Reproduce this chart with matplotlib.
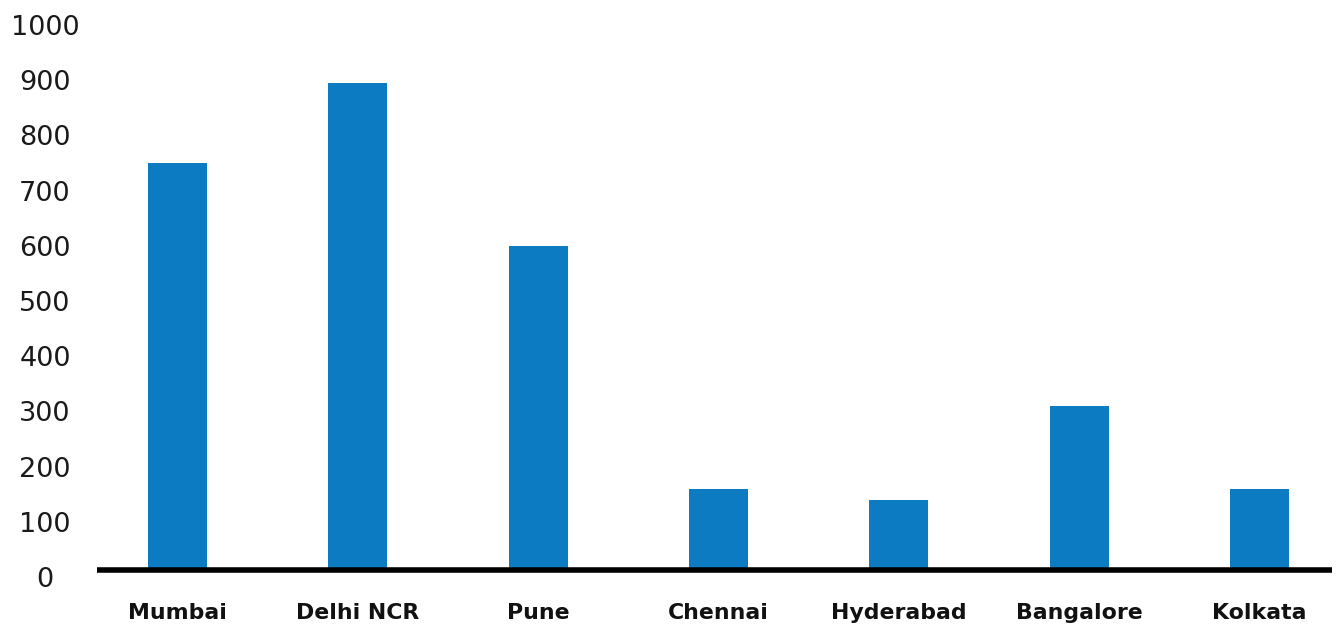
import matplotlib
matplotlib.use("Agg")
import matplotlib.pyplot as plt
from matplotlib.patches import Rectangle
import numpy as np

categories = ["Mumbai", "Delhi NCR", "Pune", "Chennai", "Hyderabad", "Bangalore", "Kolkata"]
values = [750, 895, 600, 160, 140, 310, 160]
yticks = [0, 100, 200, 300, 400, 500, 600, 700, 800, 900, 1000]

BAR_COLOR = "#0C7BC2"
W, H, DPI = 1336, 626, 100

plt.rcParams["font.family"] = ["DejaVu Sans"]
fig = plt.figure(figsize=(W / DPI, H / DPI), dpi=DPI)
left_px, right_px, bottom_px, top_px = 97, 1332, 577, 25
ax = fig.add_axes([left_px / W, (H - bottom_px) / H,
                   (right_px - left_px) / W, (bottom_px - top_px) / H])

x = np.arange(len(categories))
bars = ax.bar(x, values, width=0.327, color=BAR_COLOR, zorder=2)

ax.set_ylim(0, 1000)
ax.set_xlim(-0.4465, 6.403)

# baseline (horizontal axis) sits slightly above the zero tick
base = 11.8
ax.spines["bottom"].set_position(("data", base))
ax.spines["bottom"].set_linewidth(4.0)
ax.spines["bottom"].set_color("black")
ax.spines["bottom"].set_zorder(3)
ax.spines["bottom"].set_capstyle("butt")
for s in ["top", "right", "left"]:
    ax.spines[s].set_visible(False)

clip = Rectangle((0, base), 1, 5000, transform=ax.get_yaxis_transform())
for b in bars:
    b.set_clip_path(clip)

ax.set_yticks(yticks)
ax.set_yticklabels([str(v) for v in yticks], fontsize=19.5, color="#1a1a1a")
ax.tick_params(axis="y", length=0, pad=37.4)
for lab in ax.get_yticklabels():
    lab.set_horizontalalignment("center")

ax.set_xticks(x)
ax.set_xticklabels(categories, fontsize=15.8, fontweight="bold", color="#111111")
ax.tick_params(axis="x", length=0, pad=23.5)

fig.savefig("out.png", dpi=DPI)
